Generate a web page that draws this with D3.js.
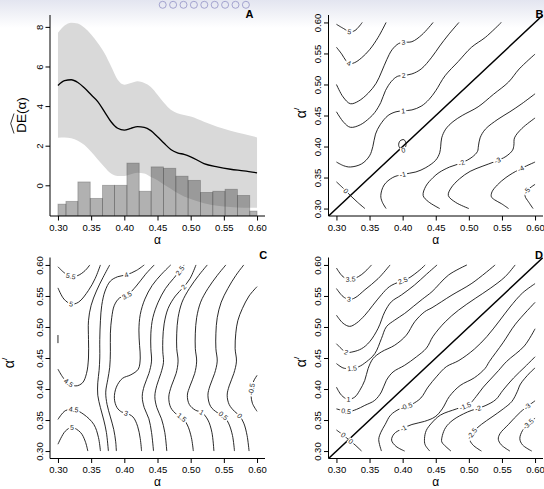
<!DOCTYPE html>
<html>
<head>
<meta charset="utf-8">
<script src="https://cdnjs.cloudflare.com/ajax/libs/d3/7.8.5/d3.min.js"></script>
<style>
  body { margin: 0; background: #fff; }
  svg { display: block; font-family: "Liberation Sans", Arial, Helvetica, sans-serif; }
</style>
</head>
<body>
<div id="chart"></div>
<script>
// ---- data ----
const xTicks = [0.30, 0.35, 0.40, 0.45, 0.50, 0.55, 0.60];
const yTicksA = [0, 2, 4, 6, 8];
const yTicksAlpha = [0.30, 0.35, 0.40, 0.45, 0.50, 0.55, 0.60];
const navDots = 9;

// panel A: estimate, band and histogram
const alphaA = [0.30,0.31,0.32,0.33,0.34,0.35,0.36,0.37,0.38,0.39,0.40,0.41,0.42,0.43,0.44,0.45,0.46,0.47,0.48,0.49,0.50,0.52,0.54,0.56,0.58,0.60];
const deMean = [5.04,5.28,5.33,5.19,4.91,4.57,4.23,3.72,3.21,2.88,2.79,2.88,2.96,2.93,2.76,2.45,2.12,1.81,1.64,1.56,1.44,1.10,0.93,0.81,0.73,0.63];
const deUpper = [7.70,8.07,8.21,8.17,7.95,7.61,7.19,6.68,6.01,5.33,5.08,5.16,5.25,5.16,4.96,4.57,4.15,3.81,3.64,3.55,3.47,3.21,2.96,2.76,2.59,2.42];
const deLower = [2.40,2.42,2.37,2.25,2.03,1.69,1.30,0.93,0.59,0.47,0.47,0.56,0.63,0.59,0.42,0.25,0.03,-0.17,-0.39,-0.56,-0.69,-0.90,-1.03,-1.10,-1.13,-1.13];
const histEdges = [0.300,0.312,0.330,0.3486,0.3671,0.3852,0.4039,0.4224,0.4404,0.4590,0.4776,0.4961,0.5147,0.5333,0.5518,0.5704,0.5890,0.600];
const histTops = [-0.95,-0.81,0.17,-0.66,0.00,0.00,1.12,-0.30,0.93,0.86,0.46,0.25,-0.36,-0.30,-0.20,-0.51,-1.30];

// panel B contour lines (alpha, alpha')
const contoursB = [
  {lev:"5", pts:[[0.30,0.597],[0.311,0.590],[0.320,0.585],[0.328,0.587],[0.339,0.60]], lab:[[0.320,0.585]]},
  {lev:"4", pts:[[0.30,0.560],[0.308,0.549],[0.314,0.539],[0.319,0.534],[0.327,0.535],[0.338,0.543],[0.350,0.556],[0.363,0.576],[0.375,0.60]], lab:[[0.3186,0.534]]},
  {lev:"3", pts:[[0.30,0.500],[0.310,0.480],[0.321,0.469],[0.333,0.473],[0.348,0.486],[0.360,0.502],[0.368,0.520],[0.376,0.540],[0.384,0.556],[0.394,0.566],[0.402,0.568],[0.414,0.569],[0.429,0.580],[0.446,0.60]], lab:[[0.4015,0.568]]},
  {lev:"2", pts:[[0.30,0.456],[0.311,0.439],[0.321,0.431],[0.336,0.435],[0.350,0.446],[0.358,0.455],[0.367,0.471],[0.374,0.490],[0.383,0.505],[0.392,0.513],[0.401,0.5145],[0.414,0.517],[0.428,0.525],[0.444,0.544],[0.456,0.562],[0.469,0.580],[0.485,0.60]], lab:[[0.4015,0.5145]]},
  {lev:"1", pts:[[0.30,0.375],[0.311,0.369],[0.321,0.367],[0.338,0.372],[0.350,0.385],[0.355,0.400],[0.359,0.420],[0.366,0.435],[0.378,0.450],[0.390,0.456],[0.4005,0.4575],[0.414,0.459],[0.428,0.465],[0.440,0.476],[0.450,0.490],[0.464,0.514],[0.484,0.537],[0.504,0.560],[0.525,0.576],[0.549,0.60]], lab:[[0.4005,0.4575]]},
  {lev:"0", pts:[[0.30,0.343],[0.311,0.332],[0.321,0.321],[0.332,0.310],[0.343,0.30]], lab:[[0.3126,0.327]]},
  {lev:"0", closed:true, pts:[[0.397,0.396],[0.394,0.402],[0.396,0.409],[0.402,0.411],[0.405,0.405],[0.404,0.398],[0.401,0.394]], lab:[[0.401,0.392]]},
  {lev:"-1", pts:[[0.375,0.30],[0.369,0.311],[0.367,0.321],[0.372,0.338],[0.385,0.350],[0.400,0.355],[0.420,0.359],[0.435,0.366],[0.450,0.378],[0.456,0.390],[0.4575,0.4005],[0.459,0.414],[0.465,0.428],[0.476,0.440],[0.490,0.450],[0.514,0.464],[0.537,0.484],[0.560,0.504],[0.576,0.525],[0.60,0.549]], lab:[[0.399,0.36]]},
  {lev:"-2", pts:[[0.456,0.30],[0.439,0.311],[0.431,0.321],[0.435,0.336],[0.446,0.350],[0.455,0.358],[0.471,0.367],[0.490,0.374],[0.505,0.383],[0.513,0.392],[0.5145,0.401],[0.517,0.414],[0.525,0.428],[0.544,0.444],[0.562,0.456],[0.580,0.469],[0.60,0.485]], lab:[[0.489,0.373]]},
  {lev:"-3", pts:[[0.500,0.30],[0.480,0.310],[0.469,0.321],[0.473,0.333],[0.486,0.348],[0.502,0.360],[0.520,0.368],[0.540,0.376],[0.556,0.384],[0.566,0.394],[0.568,0.402],[0.569,0.414],[0.580,0.429],[0.60,0.446]], lab:[[0.545,0.373]]},
  {lev:"-4", pts:[[0.560,0.30],[0.549,0.308],[0.539,0.314],[0.534,0.319],[0.535,0.327],[0.543,0.338],[0.556,0.350],[0.576,0.363],[0.60,0.375]], lab:[[0.577,0.368]]},
  {lev:"-5", pts:[[0.597,0.30],[0.590,0.311],[0.585,0.320],[0.587,0.328],[0.60,0.339]], lab:[[0.588,0.328]]}
];

// panel C contour lines
const contoursC = [
  {lev:"5.5", pts:[[0.30,0.597],[0.31,0.587],[0.319,0.582],[0.33,0.583],[0.341,0.591],[0.348,0.60]], lab:[[0.3186,0.5803]]},
  {lev:"5", pts:[[0.30,0.563],[0.309,0.545],[0.32,0.537],[0.331,0.54],[0.346,0.559],[0.356,0.578],[0.364,0.60]], lab:[[0.3196,0.5372]]},
  {lev:"5", pts:[[0.30,0.487],[0.30,0.474]], lab:[]},
  {lev:"4.5", pts:[[0.30,0.432],[0.308,0.418],[0.316,0.41],[0.327,0.405],[0.337,0.41],[0.343,0.425],[0.346,0.45],[0.346,0.48],[0.346,0.51],[0.35,0.535],[0.358,0.558],[0.368,0.58],[0.378,0.60]], lab:[[0.3161,0.4105]]},
  {lev:"4.5", pts:[[0.30,0.351],[0.311,0.365],[0.324,0.367],[0.339,0.359],[0.354,0.343],[0.361,0.322],[0.364,0.30]], lab:[[0.3236,0.3674]]},
  {lev:"5", pts:[[0.30,0.311],[0.311,0.332],[0.321,0.338],[0.334,0.33],[0.341,0.316],[0.345,0.30]], lab:[[0.3211,0.3377]]},
  {lev:"4", pts:[[0.43,0.60],[0.418,0.591],[0.403,0.584],[0.39,0.581],[0.379,0.574],[0.371,0.558],[0.366,0.535],[0.364,0.51],[0.363,0.48],[0.363,0.45],[0.362,0.43],[0.36,0.41],[0.36,0.39],[0.364,0.37],[0.369,0.35],[0.373,0.33],[0.376,0.30]], lab:[[0.4029,0.5841]]},
  {lev:"3.5", pts:[[0.445,0.60],[0.432,0.585],[0.418,0.566],[0.404,0.551],[0.393,0.547],[0.385,0.535],[0.381,0.515],[0.379,0.49],[0.379,0.46],[0.378,0.435],[0.375,0.415],[0.372,0.395],[0.374,0.375],[0.379,0.355],[0.384,0.335],[0.387,0.315],[0.388,0.30]], lab:[[0.4039,0.5507]]},
  {lev:"3", pts:[[0.47,0.60],[0.456,0.585],[0.442,0.567],[0.431,0.545],[0.424,0.52],[0.422,0.495],[0.423,0.47],[0.424,0.45],[0.421,0.432],[0.41,0.423],[0.397,0.417],[0.388,0.403],[0.385,0.385],[0.389,0.37],[0.396,0.363],[0.403,0.361],[0.413,0.355],[0.42,0.34],[0.424,0.32],[0.426,0.30]], lab:[[0.4029,0.3609]]},
  {lev:"2.5", pts:[[0.49,0.60],[0.484,0.591],[0.474,0.578],[0.462,0.562],[0.451,0.54],[0.443,0.515],[0.44,0.49],[0.44,0.465],[0.441,0.445],[0.437,0.425],[0.43,0.405],[0.427,0.388],[0.43,0.37],[0.437,0.352],[0.441,0.33],[0.444,0.30]], lab:[[0.4841,0.5911]]},
  {lev:"2", pts:[[0.508,0.60],[0.499,0.578],[0.489,0.564],[0.477,0.55],[0.466,0.53],[0.46,0.505],[0.458,0.48],[0.458,0.46],[0.459,0.443],[0.455,0.425],[0.449,0.406],[0.446,0.388],[0.449,0.37],[0.456,0.352],[0.461,0.33],[0.464,0.30]], lab:[[0.4891,0.5642]]},
  {lev:"1.5", pts:[[0.525,0.60],[0.512,0.583],[0.498,0.562],[0.487,0.54],[0.481,0.515],[0.479,0.49],[0.479,0.465],[0.481,0.445],[0.478,0.425],[0.471,0.405],[0.467,0.387],[0.47,0.37],[0.479,0.359],[0.487,0.354],[0.495,0.342],[0.501,0.322],[0.504,0.30]], lab:[[0.4867,0.3539]]},
  {lev:"1", pts:[[0.553,0.60],[0.54,0.583],[0.526,0.562],[0.515,0.54],[0.509,0.515],[0.507,0.49],[0.507,0.465],[0.509,0.445],[0.506,0.425],[0.499,0.405],[0.495,0.39],[0.498,0.375],[0.507,0.366],[0.517,0.362],[0.526,0.35],[0.532,0.33],[0.535,0.30]], lab:[[0.5168,0.362]]},
  {lev:"0.5", pts:[[0.58,0.60],[0.568,0.583],[0.556,0.562],[0.546,0.54],[0.54,0.515],[0.538,0.49],[0.538,0.465],[0.54,0.445],[0.536,0.425],[0.529,0.405],[0.526,0.39],[0.53,0.372],[0.54,0.362],[0.549,0.357],[0.557,0.345],[0.563,0.325],[0.566,0.30]], lab:[[0.5494,0.3566]]},
  {lev:"0", pts:[[0.60,0.565],[0.588,0.55],[0.578,0.53],[0.571,0.51],[0.568,0.49],[0.567,0.465],[0.569,0.445],[0.565,0.425],[0.558,0.405],[0.555,0.39],[0.558,0.375],[0.566,0.364],[0.5735,0.357],[0.58,0.345],[0.585,0.325],[0.588,0.30]], lab:[[0.5735,0.3566]]},
  {lev:"-0.5", pts:[[0.60,0.422],[0.595,0.413],[0.592,0.402],[0.591,0.39],[0.593,0.377],[0.60,0.364]], lab:[[0.592,0.4]]}
];

// panel D contour lines
const contoursD = [
  {lev:"3.5", pts:[[0.30,0.595],[0.310,0.581],[0.320,0.577],[0.333,0.581],[0.343,0.589],[0.353,0.60]], lab:[[0.321,0.577]]},
  {lev:"3", pts:[[0.30,0.562],[0.310,0.549],[0.319,0.5445],[0.328,0.547],[0.343,0.560],[0.363,0.578],[0.381,0.60]], lab:[[0.3186,0.5434]]},
  {lev:"2.5", pts:[[0.30,0.519],[0.310,0.506],[0.320,0.501],[0.330,0.506],[0.343,0.519],[0.355,0.535],[0.368,0.552],[0.380,0.565],[0.3955,0.573],[0.408,0.578],[0.426,0.592],[0.434,0.60]], lab:[[0.399,0.5773]]},
  {lev:"2", pts:[[0.30,0.473],[0.310,0.4625],[0.315,0.459],[0.325,0.460],[0.338,0.465],[0.350,0.476],[0.363,0.498],[0.373,0.5245],[0.383,0.5407],[0.398,0.5515],[0.418,0.5677],[0.436,0.585],[0.452,0.60]], lab:[[0.3146,0.4583]]},
  {lev:"1.5", pts:[[0.30,0.441],[0.310,0.434],[0.320,0.433],[0.333,0.4356],[0.345,0.4437],[0.358,0.4571],[0.368,0.4814],[0.3754,0.5003],[0.388,0.5111],[0.403,0.5218],[0.416,0.533],[0.430,0.545],[0.4443,0.5569],[0.4694,0.5838],[0.4971,0.60]], lab:[[0.3236,0.433]]},
  {lev:"1", pts:[[0.30,0.403],[0.3076,0.390],[0.3176,0.3833],[0.3277,0.3871],[0.3352,0.3978],[0.3428,0.414],[0.3478,0.4329],[0.3553,0.4491],[0.3679,0.4598],[0.388,0.4706],[0.4056,0.4868],[0.4182,0.5084],[0.4332,0.5245],[0.4443,0.531],[0.4745,0.5515],[0.5046,0.5704],[0.5397,0.60]], lab:[[0.3186,0.3872]]},
  {lev:"0.5", pts:[[0.30,0.368],[0.3186,0.3639],[0.3302,0.3671],[0.3428,0.3736],[0.3578,0.3817],[0.3679,0.3952],[0.3754,0.414],[0.3855,0.4275],[0.4031,0.4383],[0.4207,0.4518],[0.436,0.466],[0.446,0.485],[0.4644,0.5084],[0.4845,0.5272],[0.5096,0.546],[0.5322,0.5622],[0.5548,0.581],[0.5699,0.60]], lab:[[0.3146,0.363]]},
  {lev:"0", pts:[[0.30,0.334],[0.311,0.325],[0.319,0.318],[0.328,0.310],[0.338,0.30]], lab:[[0.311,0.3264],[0.3236,0.3172]]},
  {lev:"-0.5", pts:[[0.368,0.30],[0.3639,0.3186],[0.3671,0.3302],[0.3736,0.3428],[0.3817,0.3578],[0.3952,0.3679],[0.414,0.3754],[0.4275,0.3855],[0.4383,0.4031],[0.4518,0.4207],[0.466,0.436],[0.485,0.446],[0.5084,0.4644],[0.5272,0.4845],[0.546,0.5096],[0.5622,0.5322],[0.581,0.5548],[0.60,0.5699]], lab:[[0.4065,0.3684]]},
  {lev:"-1", pts:[[0.403,0.30],[0.390,0.3076],[0.3833,0.3176],[0.3871,0.3277],[0.3978,0.3352],[0.414,0.3428],[0.4329,0.3478],[0.4491,0.3553],[0.4598,0.3679],[0.4706,0.388],[0.4868,0.4056],[0.5084,0.4182],[0.5245,0.4332],[0.531,0.4443],[0.5515,0.4745],[0.5704,0.5046],[0.60,0.5397]], lab:[[0.4015,0.3361]]},
  {lev:"-1.5", pts:[[0.441,0.30],[0.434,0.310],[0.433,0.320],[0.4356,0.333],[0.4437,0.345],[0.4571,0.358],[0.4814,0.368],[0.5003,0.3754],[0.5111,0.388],[0.5218,0.403],[0.533,0.416],[0.545,0.430],[0.5569,0.4443],[0.5838,0.4694],[0.60,0.4971]], lab:[[0.492,0.3792]]},
  {lev:"-2", pts:[[0.473,0.30],[0.4625,0.310],[0.459,0.315],[0.460,0.325],[0.465,0.338],[0.476,0.350],[0.498,0.363],[0.5245,0.373],[0.5407,0.383],[0.5515,0.398],[0.5677,0.418],[0.585,0.436],[0.60,0.452]], lab:[[0.5146,0.3657]]},
  {lev:"-2.5", pts:[[0.519,0.30],[0.506,0.310],[0.501,0.320],[0.506,0.330],[0.519,0.343],[0.535,0.355],[0.552,0.368],[0.565,0.380],[0.573,0.3955],[0.578,0.408],[0.592,0.426],[0.60,0.434]], lab:[[0.5045,0.328]]},
  {lev:"-3", pts:[[0.562,0.30],[0.549,0.310],[0.5445,0.319],[0.547,0.328],[0.560,0.343],[0.578,0.363],[0.60,0.381]], lab:[[0.585,0.3765]]},
  {lev:"-3.5", pts:[[0.595,0.30],[0.581,0.310],[0.577,0.320],[0.581,0.333],[0.589,0.343],[0.60,0.353]], lab:[[0.5874,0.3468]]}
];

// ---- layout ----
const W = 544, H = 489;
const colL = [50, 265], colR = [328.5, 543];
const rowT = [216, 15], rowB = [458.5, 257.5];
const alphaDom = [0.288, 0.612];

const xL = d3.scaleLinear().domain(alphaDom).range(colL);
const xR = d3.scaleLinear().domain(alphaDom).range(colR);
const yA = d3.scaleLinear().domain([-1.55, 8.6]).range(rowT);
const yB = d3.scaleLinear().domain(alphaDom).range(rowT);
const yC = d3.scaleLinear().domain(alphaDom).range(rowB);
const yD = d3.scaleLinear().domain(alphaDom).range(rowB);

const svg = d3.select("#chart").append("svg").attr("width", W).attr("height", H);
const defs = svg.append("defs");

// slide header strip with navigation dots
const grad = defs.append("linearGradient").attr("id", "hdr").attr("x1", 0).attr("x2", 0).attr("y1", 0).attr("y2", 1);
grad.append("stop").attr("offset", "0%").attr("stop-color", "#e3e5f0");
grad.append("stop").attr("offset", "100%").attr("stop-color", "#ffffff");
svg.append("rect").attr("width", W).attr("height", 28).attr("fill", "url(#hdr)");
svg.append("g").selectAll("circle").data(d3.range(navDots)).join("circle")
  .attr("cx", d => 162.7 + d * 10.4).attr("cy", 4.8).attr("r", 3.5)
  .attr("fill", "none").attr("stroke", "#a3a3cf").attr("stroke-width", 1);

function clip(id, x, y) {
  const [x0, x1] = x.range(), [yb, yt] = y.range();
  defs.append("clipPath").attr("id", id).append("rect")
    .attr("x", x0).attr("y", yt).attr("width", x1 - x0).attr("height", yb - yt);
  return `url(#${id})`;
}

function drawAxes(x, y, yTicks, yFmt) {
  const [x0, x1] = x.range(), [yb, yt] = y.range();
  svg.append("path").attr("d", `M${x0},${yt}V${yb}H${x1}`)
    .attr("fill", "none").attr("stroke", "#000").attr("stroke-width", 1);

  const ax = svg.append("g").attr("transform", `translate(0,${yb})`)
    .call(d3.axisBottom(x).tickValues(xTicks).tickFormat(d3.format(".2f")).tickSize(4.5).tickPadding(3.5));
  ax.select(".domain").remove();
  ax.attr("font-family", null).attr("font-size", 9.5);

  const ay = svg.append("g").attr("transform", `translate(${x0},0)`)
    .call(d3.axisLeft(y).tickValues(yTicks).tickFormat(yFmt).tickSize(4.5));
  ay.select(".domain").remove();
  ay.attr("font-family", null).attr("font-size", 9.5);
  ay.selectAll(".tick text")
    .attr("x", 0).attr("y", -7.5).attr("dy", null)
    .attr("transform", "rotate(-90)").attr("text-anchor", "middle");

  svg.append("text").attr("x", (x(0.30) + x(0.60)) / 2).attr("y", yb + 27.5)
    .attr("text-anchor", "middle").attr("font-size", 12).text("α");
}

function panelLetter(txt, cx, by) {
  svg.append("text").attr("x", cx).attr("y", by).attr("text-anchor", "middle")
    .attr("font-size", 11).attr("font-weight", "bold").text(txt);
}

function alphaPrimeTitle(bx, cy) {
  const t = svg.append("text").attr("transform", `translate(${bx},${cy}) rotate(-90)`)
    .attr("text-anchor", "middle").attr("font-size", 14);
  t.append("tspan").text("α");
  t.append("tspan").attr("font-size", 8).attr("dy", -7).text("/");
}

function placeLabel(layer, node, px, py, txt) {
  const L = node.getTotalLength();
  let best = 0, bd = Infinity;
  for (let s = 0; s <= L; s += 0.5) {
    const q = node.getPointAtLength(s);
    const d = (q.x - px) ** 2 + (q.y - py) ** 2;
    if (d < bd) { bd = d; best = s; }
  }
  const q = node.getPointAtLength(best);
  const a = node.getPointAtLength(Math.max(0, best - 2.5));
  const b = node.getPointAtLength(Math.min(L, best + 2.5));
  let ang = Math.atan2(b.y - a.y, b.x - a.x) * 180 / Math.PI;
  if (ang > 90) ang -= 180;
  if (ang < -90) ang += 180;
  const lg = layer.append("g").attr("transform", `translate(${q.x},${q.y}) rotate(${ang})`);
  const t = lg.append("text").text(txt).attr("font-size", 7).attr("text-anchor", "middle")
    .attr("dy", "0.35em").attr("fill", "#222");
  const w = t.node().getComputedTextLength();
  lg.insert("rect", "text").attr("x", -w / 2 - 1.3).attr("y", -2.9)
    .attr("width", w + 2.6).attr("height", 5.8).attr("fill", "#fff");
}

function drawContours(x, y, lines, clipUrl, diagonal) {
  const g = svg.append("g").attr("clip-path", clipUrl);
  const open = d3.line().x(d => x(d[0])).y(d => y(d[1])).curve(d3.curveCatmullRom.alpha(0.5));
  const closed = d3.line().x(d => x(d[0])).y(d => y(d[1])).curve(d3.curveCatmullRomClosed.alpha(0.5));
  if (diagonal) {
    g.append("line")
      .attr("x1", x(alphaDom[0])).attr("y1", y(alphaDom[0]))
      .attr("x2", x(alphaDom[1])).attr("y2", y(alphaDom[1]))
      .attr("stroke", "#000").attr("stroke-width", 1.5);
  }
  const paths = lines.map(l => g.append("path")
    .attr("d", (l.closed ? closed : open)(l.pts))
    .attr("fill", "none").attr("stroke", "#111").attr("stroke-width", 0.9).node());
  const labels = svg.append("g");
  lines.forEach((l, i) => l.lab.forEach(p => placeLabel(labels, paths[i], x(p[0]), y(p[1]), l.lev)));
}

// ---- panel A ----
const clipA = clip("clipA", xL, yA);
const gA = svg.append("g").attr("clip-path", clipA);
gA.append("path").datum(alphaA)
  .attr("d", d3.area().x(d => xL(d))
    .y0((d, i) => yA(deLower[i])).y1((d, i) => yA(deUpper[i])).curve(d3.curveMonotoneX))
  .attr("fill", "#d9d9d9");
gA.append("g").selectAll("rect").data(histTops).join("rect")
  .attr("x", (d, i) => xL(histEdges[i]))
  .attr("width", (d, i) => xL(histEdges[i + 1]) - xL(histEdges[i]))
  .attr("y", d => yA(d))
  .attr("height", d => rowT[0] - yA(d))
  .attr("fill", "rgba(60,60,60,0.4)")
  .attr("stroke", "rgba(60,60,60,0.35)").attr("stroke-width", 0.8);
gA.append("path").datum(alphaA)
  .attr("d", d3.line().x(d => xL(d)).y((d, i) => yA(deMean[i])).curve(d3.curveMonotoneX))
  .attr("fill", "none").attr("stroke", "#000").attr("stroke-width", 1.3);
drawAxes(xL, yA, yTicksA, d3.format("d"));
panelLetter("A", 249.5, 17.5);
const titleA = svg.append("g").attr("transform", "translate(25.5,115) rotate(-90)");
titleA.append("text").attr("text-anchor", "middle").attr("font-size", 13.5).text("DE(α)");
titleA.append("path").attr("d", "M-18.5,-11.5 L-8.5,-14.8 L1.5,-11.5")
  .attr("fill", "none").attr("stroke", "#000").attr("stroke-width", 0.8);

// ---- panel B ----
drawContours(xR, yB, contoursB, clip("clipB", xR, yB), true);
drawAxes(xR, yB, yTicksAlpha, d3.format(".2f"));
panelLetter("B", 539.5, 17.5);
alphaPrimeTitle(306, 113);

// ---- panel C ----
drawContours(xL, yC, contoursC, clip("clipC", xL, yC), false);
drawAxes(xL, yC, yTicksAlpha, d3.format(".2f"));
panelLetter("C", 263.3, 258.5);
alphaPrimeTitle(14, 363);

// ---- panel D ----
drawContours(xR, yD, contoursD, clip("clipD", xR, yD), true);
drawAxes(xR, yD, yTicksAlpha, d3.format(".2f"));
panelLetter("D", 539, 258.5);
alphaPrimeTitle(305.5, 362);
</script>
</body>
</html>
